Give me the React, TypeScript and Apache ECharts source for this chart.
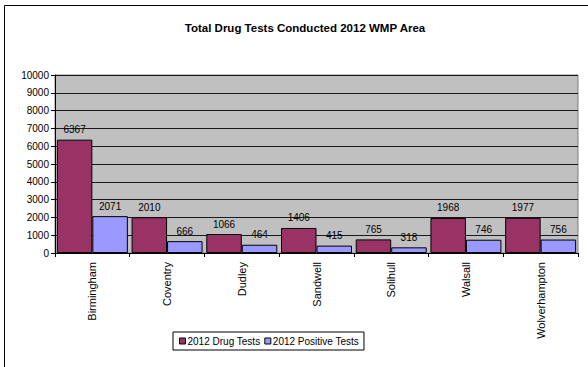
import React, { useEffect, useRef } from "react";
import * as echarts from "echarts";

const areas = ["Birmingham", "Coventry", "Dudley", "Sandwell", "Solihull", "Walsall", "Wolverhampton"];
const drugTests = [6367, 2010, 1066, 1406, 765, 1968, 1977];
const positiveTests = [2071, 666, 464, 415, 318, 746, 756];
const seriesNames = ["2012 Drug Tests", "2012 Positive Tests"];

const FONT = "Liberation Sans, Arial, sans-serif";

export default function App() {
  const ref = useRef<HTMLDivElement>(null);

  useEffect(() => {
    if (!ref.current) return;
    const chart = echarts.init(ref.current, undefined, { renderer: "svg" });
    const label = {
      show: true,
      position: "top" as const,
      distance: 5,
      color: "#000",
      fontFamily: FONT,
      fontSize: 10,
    };
    chart.setOption({
      animation: false,
      backgroundColor: "#fff",
      textStyle: { fontFamily: FONT },
      title: {
        text: "Total Drug Tests Conducted 2012 WMP Area",
        left: 300,
        textAlign: "center",
        top: 17,
        textStyle: { fontFamily: FONT, fontSize: 11.5, fontWeight: "bold", color: "#000" },
      },
      graphic: [
        {
          type: "rect",
          shape: { x: 4.5, y: 5.5, width: 600, height: 400 },
          style: { fill: "none", stroke: "#000", lineWidth: 1 },
          silent: true,
          z: 100,
        },
      ],
      legend: {
        left: 173,
        top: 332,
        orient: "horizontal",
        itemWidth: 6,
        itemHeight: 6,
        itemGap: 4,
        padding: [4, 5, 4, 6],
        borderColor: "#000",
        borderWidth: 1,
        icon: "rect",
        itemStyle: { borderColor: "#000", borderWidth: 1 },
        textStyle: { fontFamily: FONT, fontSize: 10, color: "#000", padding: [0, 0, 0, -3] },
        data: seriesNames,
      },
      grid: {
        left: 55,
        right: 10,
        top: 75,
        bottom: 114,
        show: true,
        backgroundColor: "#C0C0C0",
        borderColor: "#808080",
        borderWidth: 1,
        containLabel: false,
      },
      xAxis: {
        type: "category",
        data: areas,
        axisLine: { show: true, lineStyle: { color: "#000", width: 1 } },
        axisTick: { show: true, length: 4, lineStyle: { color: "#000" } },
        axisLabel: {
          rotate: 90,
          margin: 9,
          color: "#000",
          fontFamily: FONT,
          fontSize: 11,
          interval: 0,
        },
      },
      yAxis: {
        type: "value",
        min: 0,
        max: 10000,
        interval: 1000,
        axisLine: { show: true, lineStyle: { color: "#000", width: 1 } },
        axisTick: { show: true, length: 4, lineStyle: { color: "#000" } },
        axisLabel: {
          color: "#000",
          fontFamily: FONT,
          fontSize: 10,
          margin: 6,
          formatter: (v: number) => String(v),
        },
        splitLine: { show: true, lineStyle: { color: "#1a1a1a", width: 1 } },
      },
      series: [
        {
          name: seriesNames[0],
          type: "bar",
          data: drugTests,
          barGap: "0%",
          barCategoryGap: "5%",
          itemStyle: { color: "#993366", borderColor: "#000", borderWidth: 1 },
          label,
        },
        {
          name: seriesNames[1],
          type: "bar",
          data: positiveTests,
          itemStyle: { color: "#9999FF", borderColor: "#000", borderWidth: 1 },
          label,
        },
      ],
    });
    return () => chart.dispose();
  }, []);

  return (
    <div
      ref={ref}
      style={{ position: "fixed", left: 0, top: 0, width: 588, height: 367 }}
    />
  );
}
